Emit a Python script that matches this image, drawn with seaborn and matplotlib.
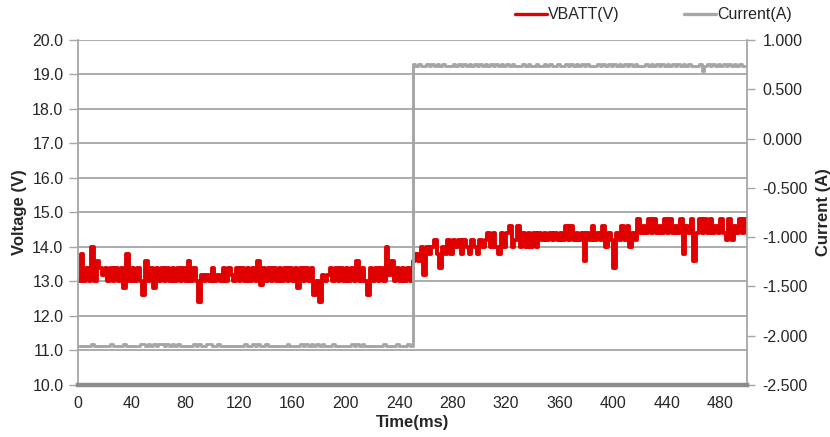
import numpy as np
import matplotlib
matplotlib.use('Agg')
import matplotlib.pyplot as plt
import seaborn as sns
from matplotlib.ticker import FuncFormatter
from matplotlib.lines import Line2D

# -----------------------------
# DATA (sampled every 2 ms)
# -----------------------------

time_ms = np.arange(0, 501, 2)

vbatt = [
    13.0, 13.8, 13.0, 13.4, 13.0, 14.0, 13.0, 13.6, 13.4, 13.2, 13.4, 13.0, 13.4,
    13.0, 13.4, 13.0, 13.4, 12.8, 13.8, 13.0, 13.4, 13.0, 13.4, 13.0, 12.6,
    13.6, 13.0, 13.4, 12.8, 13.4, 13.0, 13.4, 13.0, 13.4, 13.0, 13.4, 13.0, 13.4,
    13.0, 13.4, 13.0, 13.6, 13.0, 13.4, 13.0, 12.4, 13.2, 13.0, 13.2, 13.0,
    13.4, 13.0, 13.2, 13.0, 13.4, 13.0, 13.4, 13.2, 13.0, 13.4, 13.0, 13.4, 13.0,
    13.4, 13.0, 13.4, 13.0, 13.6, 12.9, 13.4, 13.0, 13.4, 13.0, 13.4, 13.0,
    13.4, 13.0, 13.4, 13.0, 13.4, 13.0, 13.4, 12.8, 13.4, 13.0, 13.4, 13.0, 13.4,
    12.6, 13.0, 12.4, 13.2, 13.0, 13.2, 13.4, 13.0, 13.4, 13.0, 13.4, 13.0,
    13.4, 13.0, 13.4, 13.0, 13.6, 13.0, 13.4, 13.0, 12.6, 13.4, 13.0, 13.4, 13.0,
    13.4, 13.0, 14.0, 13.2, 13.6, 13.0, 13.4, 13.0, 13.4, 13.0, 13.4, 13.0,
    13.6, 13.8, 13.6, 14.0, 13.2, 14.0, 13.8, 14.0, 14.2, 13.8, 13.4, 14.0, 13.8,
    14.2, 13.8, 14.2, 14.0, 14.2, 13.8, 14.2, 14.0, 13.8, 14.2, 14.0, 13.8,
    14.2, 14.0, 14.2, 14.4, 14.0, 14.4, 14.0, 13.8, 14.4, 14.0, 14.4, 14.6, 14.0,
    14.2, 14.6, 14.0, 14.4, 14.0, 14.4, 14.0, 14.4, 14.0, 14.4, 14.2, 14.4,
    14.2, 14.4, 14.2, 14.4, 14.2, 14.4, 14.2, 14.6, 14.2, 14.6, 14.2, 14.4, 14.2,
    14.4, 13.6, 14.4, 14.2, 14.6, 14.2, 14.4, 14.2, 14.6, 14.0, 14.4, 14.2,
    13.4, 14.4, 14.2, 14.6, 14.2, 14.6, 14.0, 14.4, 14.2, 14.8, 14.4, 14.6, 14.4,
    14.8, 14.4, 14.8, 14.4, 14.6, 14.4, 14.8, 14.4, 14.8, 14.4, 14.6, 14.4,
    14.8, 13.8, 14.6, 14.4, 14.8, 13.6, 14.4, 14.8, 14.4, 14.8, 14.4, 14.8, 14.4,
    14.6, 14.4, 14.8, 14.4, 14.2, 14.8, 14.2, 14.6, 14.4, 14.8, 14.4, 14.8,
    14.4,
]

current = [
    -2.10, -2.10, -2.10, -2.10, -2.10, -2.08, -2.10, -2.10, -2.10, -2.10, -2.10, -2.10, -2.08,
    -2.10, -2.10, -2.10, -2.10, -2.08, -2.10, -2.10, -2.10, -2.10, -2.10, -2.08, -2.08,
    -2.10, -2.08, -2.10, -2.08, -2.10, -2.08, -2.08, -2.10, -2.08, -2.10, -2.08, -2.10, -2.08,
    -2.10, -2.10, -2.10, -2.10, -2.10, -2.08, -2.10, -2.08, -2.10, -2.10, -2.08, -2.08,
    -2.10, -2.10, -2.08, -2.10, -2.10, -2.10, -2.10, -2.10, -2.10, -2.10, -2.10, -2.10, -2.08,
    -2.10, -2.10, -2.08, -2.10, -2.08, -2.10, -2.10, -2.08, -2.10, -2.10, -2.10, -2.10,
    -2.10, -2.10, -2.10, -2.08, -2.10, -2.10, -2.10, -2.10, -2.08, -2.10, -2.08, -2.10, -2.08,
    -2.10, -2.08, -2.10, -2.08, -2.10, -2.10, -2.10, -2.08, -2.10, -2.10, -2.10, -2.10,
    -2.10, -2.10, -2.08, -2.10, -2.08, -2.10, -2.08, -2.10, -2.10, -2.10, -2.10, -2.10, -2.10,
    -2.10, -2.08, -2.10, -2.10, -2.10, -2.10, -2.08, -2.10, -2.10, -2.10, -2.08, -2.10,
    0.76, 0.74, 0.76, 0.74, 0.74, 0.76, 0.74, 0.76, 0.74, 0.76, 0.74, 0.76, 0.74,
    0.74, 0.74, 0.76, 0.74, 0.76, 0.74, 0.76, 0.74, 0.76, 0.74, 0.76, 0.74,
    0.76, 0.74, 0.76, 0.74, 0.76, 0.74, 0.76, 0.74, 0.76, 0.74, 0.76, 0.74, 0.76,
    0.74, 0.74, 0.74, 0.76, 0.74, 0.76, 0.74, 0.74, 0.76, 0.74, 0.74, 0.76,
    0.74, 0.76, 0.74, 0.74, 0.76, 0.74, 0.74, 0.76, 0.74, 0.76, 0.74, 0.76, 0.74,
    0.76, 0.74, 0.76, 0.74, 0.74, 0.74, 0.76, 0.74, 0.76, 0.74, 0.76, 0.74,
    0.76, 0.74, 0.76, 0.74, 0.76, 0.74, 0.76, 0.74, 0.76, 0.74, 0.74, 0.74, 0.76,
    0.74, 0.76, 0.74, 0.76, 0.74, 0.76, 0.74, 0.76, 0.74, 0.76, 0.74, 0.76,
    0.74, 0.76, 0.74, 0.76, 0.74, 0.74, 0.74, 0.76, 0.69, 0.74, 0.76, 0.74, 0.76,
    0.74, 0.76, 0.74, 0.76, 0.74, 0.76, 0.74, 0.76, 0.74, 0.76, 0.74, 0.74,
    0.74,
]

volt_ticks = np.arange(10, 20.5, 1)
amp_ticks = np.arange(-2.5, 1.01, 0.5)
time_ticks = np.arange(0, 481, 40)

# -----------------------------
# STYLE
# -----------------------------

sns.set_style('white')
plt.rcParams['font.family'] = ['Liberation Sans', 'DejaVu Sans']

RED = '#e00000'
GRAY = '#a6a6a6'

fig = plt.figure(figsize=(8.3, 4.37), dpi=100)
ax = fig.add_axes([78 / 830, 52 / 437, 669 / 830, 345 / 437])
ax2 = ax.twinx()

# -----------------------------
# PLOT
# -----------------------------

sns.lineplot(x=time_ms, y=vbatt, ax=ax, color=RED, linewidth=2.8,
             drawstyle='steps-post', estimator=None, sort=False)
sns.lineplot(x=time_ms, y=current, ax=ax2, color=GRAY, linewidth=2.1,
             drawstyle='steps-post', estimator=None, sort=False)

# -----------------------------
# AXES
# -----------------------------

ax.set_xlim(0, 500)
ax.set_ylim(10, 20)
ax2.set_ylim(-2.5, 1.0)

ax.set_xticks(time_ticks)
ax.set_yticks(volt_ticks)
ax2.set_yticks(amp_ticks)
ax.yaxis.set_major_formatter(FuncFormatter(lambda v, p: f'{v:.1f}'))
ax2.yaxis.set_major_formatter(FuncFormatter(lambda v, p: f'{v:.3f}'))

ax.yaxis.grid(True, color=GRAY, linewidth=1.3)
ax.xaxis.grid(False)
ax2.grid(False)

for a in (ax, ax2):
    a.spines['top'].set_visible(False)
    a.spines['left'].set_color(GRAY)
    a.spines['right'].set_color(GRAY)
    a.spines['left'].set_linewidth(1.3)
    a.spines['right'].set_linewidth(1.3)
    a.spines['bottom'].set_visible(False)
ax.spines['right'].set_visible(False)
ax2.spines['left'].set_visible(False)
ax2.spines['bottom'].set_visible(True)
ax2.spines['bottom'].set_color('#8c8c8c')
ax2.spines['bottom'].set_linewidth(3.2)

ax.tick_params(axis='y', which='major', direction='out', length=6.5, width=1.0,
               color=GRAY, pad=4, labelsize=11.5, left=True)
ax.tick_params(axis='x', length=0, pad=8, labelsize=11.5)
ax2.tick_params(axis='y', which='major', direction='out', length=6, width=1.0,
                color=GRAY, pad=5, labelsize=11.5, right=True)

ax.set_xlabel('Time(ms)', fontsize=12, fontweight='bold', labelpad=3)
ax.set_ylabel('Voltage (V)', fontsize=12, fontweight='bold', labelpad=4)
ax2.set_ylabel('Current (A)', fontsize=12, fontweight='bold', labelpad=6)

# -----------------------------
# LEGEND
# -----------------------------

handles = [Line2D([0], [0], color=RED, linewidth=2.4),
           Line2D([0], [0], color=GRAY, linewidth=2.4)]
fig.legend(handles, ['VBATT(V)', 'Current(A)'], loc='center right',
           bbox_to_anchor=(792 / 830, 1 - 15 / 437), ncol=2, frameon=False,
           fontsize=11.5, handlelength=2.0, handletextpad=0.1,
           columnspacing=4.0, borderpad=0, borderaxespad=0)

fig.savefig('out.png', dpi=100)
